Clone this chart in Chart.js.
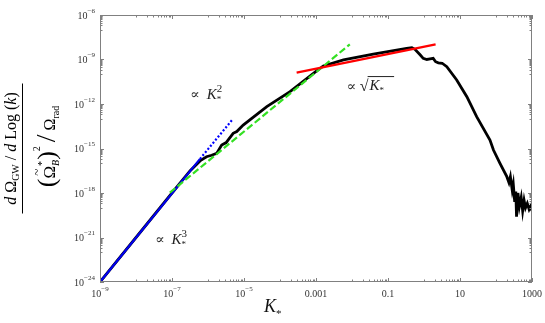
<!DOCTYPE html>
<html>
<head>
<meta charset="utf-8">
<script src="https://cdn.jsdelivr.net/npm/chart.js@4.4.0/dist/chart.umd.min.js"></script>
<style>
  html, body { margin: 0; padding: 0; background: #fff; }
</style>
</head>
<body>
<canvas id="chart" width="545" height="323"></canvas>
<script>
// GW spectrum
const spectrumK = [1e-9, 1e-8, 1e-7, 3.2e-7, 6.3e-7, 9.1e-7, 1.26e-6, 1.74e-6, 2.4e-6, 3.2e-6, 3.6e-6, 5.0e-6, 6.3e-6, 9.5e-6,
  4.3e-5, 1.9e-4, 1.0e-3, 1.6e-3, 5.8e-3, 3.9e-2, 0.33, 0.46, 0.56, 0.79, 0.95, 1.2, 1.48, 1.8, 2.1, 2.5, 3.2, 4.3,
  8.1, 15.5, 29, 68, 85, 129, 200, 229, 251, 282, 302, 331, 355, 372, 407, 447, 501, 550, 603, 661, 741, 832, 912, 1000];
const spectrumOmega = [1e-24, 1e-21, 1e-18, 3.2e-17, 1.6e-16, 2.8e-16, 3.5e-16, 4.7e-16, 1.7e-15, 2.5e-15, 3.7e-15, 1.05e-14, 1.4e-14, 3.8e-14,
  6.6e-13, 6.8e-12, 1.6e-10, 3.7e-10, 9.3e-10, 2.3e-9, 5.6e-9, 6.3e-9, 4.9e-9, 2.0e-9, 1.2e-9, 1.0e-9, 1.1e-9, 1.2e-9, 7.1e-10, 6.0e-10, 5.6e-10, 3.3e-10,
  4.2e-11, 3.1e-12, 1.4e-13, 3.7e-15, 7.9e-16, 1e-16, 1.26e-17, 5e-18, 1.26e-17, 1.6e-18, 4e-18, 2.5e-19, 1.26e-18, 2.5e-20, 1e-18, 1.26e-19, 5e-19, 6.3e-20, 3.2e-19, 1e-19, 2e-19, 7.9e-20, 1.26e-19, 6.3e-20];

// power-law guides
const cubicK = [1e-9, 6e-7];
const cubicOmega = [1e-24, 2e-16];
const cubicExtK = [6e-7, 4.6e-6];
const cubicExtOmega = [2e-16, 8e-14];
const quadK = [8.7e-8, 8.7e-3];
const quadOmega = [1.05e-18, 1.05e-8];
const sqrtK = [2.9e-4, 2.1];
const sqrtOmega = [1.3e-10, 1.05e-8];

const xTickValues = [1e-9, 1e-7, 1e-5, 1e-3, 1e-1, 10, 1000];
const xTickLabels = ['10^−9', '10^−7', '10^−5', '0.001', '0.1', '10', '1000'];
const yTickValues = [1e-24, 1e-21, 1e-18, 1e-15, 1e-12, 1e-9, 1e-6];
const yTickLabels = ['10^−24', '10^−21', '10^−18', '10^−15', '10^−12', '10^−9', '10^−6'];

const SERIF = '"Liberation Serif", "DejaVu Serif", serif';
const pts = (xs, ys) => xs.map((x, i) => ({ x: x, y: ys[i] }));

// draws a run of text pieces, returns end position
function run(ctx, parts, u, v, measureOnly) {
  for (const p of parts) {
    ctx.font = p.f;
    if (!measureOnly) ctx.fillText(p.t, u, v + (p.dy || 0));
    if (!p.stay) u += ctx.measureText(p.t).width;
  }
  return u;
}

function tickLabel(ctx, label, x, y, align) {
  const parts = label.split('^');
  ctx.font = '10px ' + SERIF;
  const wb = ctx.measureText(parts[0]).width;
  let we = 0;
  if (parts[1]) { ctx.font = '7px ' + SERIF; we = ctx.measureText(parts[1]).width; }
  let x0 = align === 'right' ? x - wb - we : x - (wb + we) / 2;
  ctx.textBaseline = 'middle';
  ctx.font = '10px ' + SERIF;
  ctx.fillText(parts[0], x0, y);
  if (parts[1]) {
    ctx.font = '7px ' + SERIF;
    ctx.fillText(parts[1], x0 + wb, y - 5);
  }
}

const decor = {
  id: 'decor',
  afterDraw(chart) {
    const ctx = chart.ctx;
    const a = chart.chartArea;
    const xs = chart.scales.x, ys = chart.scales.y;
    ctx.save();
    ctx.strokeStyle = '#808080';
    ctx.lineWidth = 1;
    ctx.strokeRect(a.left + 0.5, a.top + 0.5, a.right - a.left - 1, a.bottom - a.top - 1);

    // ticks on all four sides
    ctx.beginPath();
    xTickValues.forEach(v => {
      for (let k = 1; k <= 10; k++) {
        const val = k === 10 ? v : k * v / 10;
        if (val < 1e-9 || val > 1000) continue;
        const px = Math.round(xs.getPixelForValue(val)) + 0.5;
        const len = k === 10 ? 4 : 2.5;
        ctx.moveTo(px, a.bottom); ctx.lineTo(px, a.bottom - len);
        ctx.moveTo(px, a.top); ctx.lineTo(px, a.top + len);
      }
    });
    yTickValues.forEach(v => {
      for (let k = 1; k <= 10; k++) {
        const val = k === 10 ? v : k * v / 10;
        if (val < 1e-24 || val > 1e-6) continue;
        const py = Math.round(ys.getPixelForValue(val)) + 0.5;
        const len = k === 10 ? 4 : 2.5;
        ctx.moveTo(a.left, py); ctx.lineTo(a.left + len, py);
        ctx.moveTo(a.right, py); ctx.lineTo(a.right - len, py);
      }
    });
    ctx.stroke();

    // tick labels
    ctx.fillStyle = '#333';
    xTickValues.forEach((v, i) => tickLabel(ctx, xTickLabels[i], xs.getPixelForValue(v), a.bottom + 12, 'center'));
    yTickValues.forEach((v, i) => tickLabel(ctx, yTickLabels[i], a.left - 5, ys.getPixelForValue(v) + 1, 'right'));

    // x title
    ctx.fillStyle = '#111';
    ctx.textBaseline = 'alphabetic';
    run(ctx, [
      { t: 'K', f: 'italic 18px ' + SERIF },
      { t: '*', f: '11px ' + SERIF, dy: 5 }
    ], 264, 312);

    // annotations
    ctx.fillStyle = '#222';
    const note = (k, om, parts) => run(ctx, parts, xs.getPixelForValue(k), ys.getPixelForValue(om));
    note(3.2e-7, 2.2e-12, [
      { t: '∝  ', f: '14px ' + SERIF },
      { t: 'K', f: 'italic 15px ' + SERIF },
      { t: '2', f: '11px ' + SERIF, dy: -7, stay: true },
      { t: '*', f: '9px ' + SERIF, dy: 3 }
    ]);
    note(3.4e-8, 3.6e-22, [
      { t: '∝  ', f: '14px ' + SERIF },
      { t: 'K', f: 'italic 15px ' + SERIF },
      { t: '3', f: '11px ' + SERIF, dy: -7, stay: true },
      { t: '*', f: '9px ' + SERIF, dy: 3 }
    ]);
    const sx = xs.getPixelForValue(7.2e-3), sy = ys.getPixelForValue(8.7e-12);
    let u = run(ctx, [{ t: '∝ ', f: '14px ' + SERIF }, { t: '√', f: '16px ' + SERIF }], sx, sy + 1);
    const uStart = u;
    u = run(ctx, [{ t: 'K', f: 'italic 15px ' + SERIF }, { t: '*', f: '9px ' + SERIF, dy: 3 }], u + 1, sy);
    ctx.strokeStyle = '#222';
    ctx.beginPath();
    ctx.moveTo(uStart - 1, sy - 13.5); ctx.lineTo(u + 10, sy - 13.5);
    ctx.stroke();

    // rotated y title
    ctx.translate(0, (a.top + a.bottom) / 2);
    ctx.rotate(-Math.PI / 2);
    ctx.fillStyle = '#000';
    const num = [
      { t: 'd', f: 'italic 16px ' + SERIF },
      { t: ' Ω', f: '16px ' + SERIF },
      { t: 'GW', f: '10px ' + SERIF, dy: 3 },
      { t: ' / ', f: '16px ' + SERIF },
      { t: 'd', f: 'italic 16px ' + SERIF },
      { t: ' Log', f: '16px ' + SERIF },
      { t: ' (', f: '16px ' + SERIF },
      { t: 'k', f: 'italic 16px ' + SERIF },
      { t: ')', f: '16px ' + SERIF }
    ];
    const wn = run(ctx, num, 0, 0, true);
    run(ctx, num, -wn / 2, 16);

    ctx.strokeStyle = '#000';
    ctx.lineWidth = 1;
    ctx.beginPath();
    ctx.moveTo(-65, 22.5); ctx.lineTo(65, 22.5);
    ctx.stroke();

    const den1 = [
      { t: '(', f: '26px ' + SERIF },
      { t: 'Ω', f: '17px ' + SERIF },
      { t: '*', f: '10px ' + SERIF, dy: -10, stay: true },
      { t: 'B', f: 'italic 10px ' + SERIF, dy: 4 },
      { t: ')', f: '26px ' + SERIF },
      { t: '2', f: '10px ' + SERIF, dy: -15 }
    ];
    const den2 = [
      { t: ' ', f: '16px ' + SERIF },
      { t: '/', f: '28px ' + SERIF },
      { t: ' Ω', f: '16px ' + SERIF },
      { t: 'rad', f: '10px ' + SERIF, dy: 4 }
    ];
    const wd = run(ctx, den1.concat(den2), 0, 0, true);
    const d0 = -wd / 2 + 2, vb = 55;
    ctx.font = '26px ' + SERIF;
    const wp = ctx.measureText('(').width;
    ctx.font = '17px ' + SERIF;
    const wo = ctx.measureText('Ω').width;
    const end1 = run(ctx, den1, d0, vb);
    run(ctx, den2, end1, vb);
    ctx.font = '13px ' + SERIF;
    ctx.fillText('~', d0 + wp + wo / 2 - ctx.measureText('~').width / 2, vb - 14);
    ctx.restore();
  }
};

new Chart(document.getElementById('chart'), {
  type: 'line',
  data: {
    datasets: [
      { data: pts(sqrtK, sqrtOmega), borderColor: '#ff0000', borderWidth: 2.2, order: 1 },
      { data: pts(quadK, quadOmega), borderColor: '#33e022', borderWidth: 2.2, borderDash: [7, 3], order: 2 },
      { data: pts(cubicExtK, cubicExtOmega), borderColor: '#0000ff', borderWidth: 2.2, borderDash: [2, 2], order: 3 },
      { data: pts(cubicK, cubicOmega), borderColor: '#0000ee', borderWidth: 2.2, order: 4 },
      { data: pts(spectrumK, spectrumOmega), borderColor: '#000000', borderWidth: 2.8, order: 5 }
    ]
  },
  options: {
    responsive: false,
    animation: false,
    layout: { padding: { left: 100, right: 13, top: 15, bottom: 41 } },
    elements: { point: { radius: 0 }, line: { tension: 0 } },
    scales: {
      x: { type: 'logarithmic', min: 1e-9, max: 1000, display: false },
      y: { type: 'logarithmic', min: 1e-24, max: 1e-6, display: false }
    },
    plugins: { legend: { display: false }, tooltip: { enabled: false } }
  },
  plugins: [decor]
});
</script>
</body>
</html>
